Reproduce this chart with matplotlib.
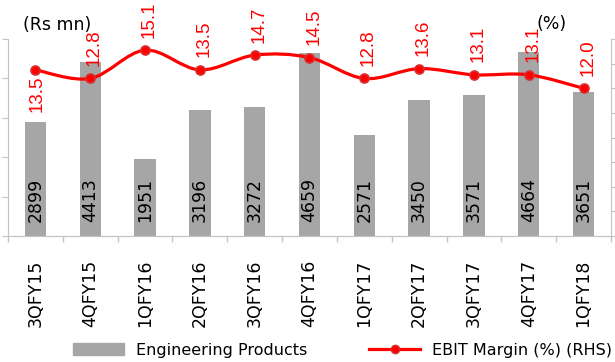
import numpy as np
import matplotlib
matplotlib.use("Agg")
import matplotlib.pyplot as plt
from matplotlib.path import Path
from matplotlib.patches import PathPatch, Patch
from matplotlib.lines import Line2D

quarters = ["3QFY15", "4QFY15", "1QFY16", "2QFY16", "3QFY16", "4QFY16",
            "1QFY17", "2QFY17", "3QFY17", "4QFY17", "1QFY18"]
eng_products = [2899, 4413, 1951, 3196, 3272, 4659, 2571, 3450, 3571, 4664, 3651]
ebit_margin = [13.5, 12.8, 15.1, 13.5, 14.7, 14.5, 12.8, 13.6, 13.1, 13.1, 12.0]

BAR_COL = "#a6a6a6"
AX_COL = "#c4c4c4"
RED = "#ff0000"


def smooth_path(xs, ys):
    # catmull-rom through the points, as bezier segments
    n = len(xs)
    verts = [(xs[0], ys[0])]
    codes = [Path.MOVETO]
    for i in range(n - 1):
        i0, i3 = max(i - 1, 0), min(i + 2, n - 1)
        x0, y0 = xs[i0], ys[i0]
        x1, y1 = xs[i], ys[i]
        x2, y2 = xs[i + 1], ys[i + 1]
        x3, y3 = xs[i3], ys[i3]
        verts += [(x1 + (x2 - x0) / 6, y1 + (y2 - y0) / 6),
                  (x2 - (x3 - x1) / 6, y2 - (y3 - y1) / 6),
                  (x2, y2)]
        codes += [Path.CURVE4] * 3
    return Path(verts, codes)


fig = plt.figure(figsize=(6.15, 3.62), dpi=100)
ax = fig.add_axes([0.013, 0.348, 0.9805, 0.544])
ax2 = ax.twinx()

x = np.arange(len(quarters))
ax.bar(x, eng_products, width=0.39, color=BAR_COL, zorder=2)
for i, v in enumerate(eng_products):
    ax.annotate(str(v), (x[i], 0), xytext=(0, 10), textcoords="offset points",
                rotation=90, ha="center", va="bottom", fontsize=12.5, color="black")

ax.set_xlim(-0.5, len(quarters) - 0.5)
ax.set_ylim(0, 5000)
ax.set_yticks(np.arange(0, 5001, 1000))
ax.set_xticks(x)
ax.set_xticklabels(quarters, rotation=90, fontsize=12.5)
ax.set_xticks(np.arange(-0.5, len(quarters), 1), minor=True)
ax.tick_params(axis="x", which="major", length=0, pad=17)
ax.tick_params(axis="x", which="minor", length=4, color=AX_COL, width=1)
ax.tick_params(axis="y", direction="out", length=4, color=AX_COL, labelleft=False)

ax2.set_ylim(0, 16)
ax2.set_yticks(np.arange(0, 17, 2))
ax2.tick_params(axis="y", direction="out", length=4, color=AX_COL, labelright=False)

for a in (ax, ax2):
    a.spines["top"].set_visible(False)
    for s in ("left", "right", "bottom"):
        a.spines[s].set_color(AX_COL)
ax2.spines["left"].set_visible(False)
ax.spines["right"].set_visible(False)

# smoothed margin line
ax2.add_patch(PathPatch(smooth_path(x, ebit_margin), fill=False, edgecolor=RED,
                        lw=2.3, zorder=3, capstyle="round"))
ax2.plot(x, ebit_margin, ls="none", marker="o", ms=6.5, mfc=RED,
         mec="#d83030", mew=1.2, zorder=4)
for i, v in enumerate(ebit_margin):
    if i == 0:
        ax2.annotate(f"{v:.1f}", (x[i], v), xytext=(1, -4), textcoords="offset points",
                     rotation=90, ha="center", va="top", fontsize=13.5,
                     family="Liberation Sans", color=RED, annotation_clip=False)
    else:
        ax2.annotate(f"{v:.1f}", (x[i], v), xytext=(3, 9), textcoords="offset points",
                     rotation=90, ha="center", va="bottom", fontsize=13.5,
                     family="Liberation Sans", color=RED, annotation_clip=False)

fig.text(23 / 615, 1 - 25 / 362, "(Rs mn)", fontsize=12.5, ha="left", va="center")
fig.text(536 / 615, 1 - 24 / 362, "(%)", fontsize=12.5, ha="left", va="center")

handles = [Patch(color=BAR_COL, label="Engineering Products"),
           Line2D([], [], color=RED, lw=2.3, marker="o", ms=6, mfc=RED,
                  mec="#d83030", label="EBIT Margin (%) (RHS)")]
fig.legend(handles=handles, loc="center", bbox_to_anchor=(0.557, 0.033), ncol=2,
           frameon=False, fontsize=11.5, handlelength=3.2, handletextpad=0.75,
           columnspacing=3.9, borderpad=0, borderaxespad=0)

fig.savefig("out.png", dpi=100)
